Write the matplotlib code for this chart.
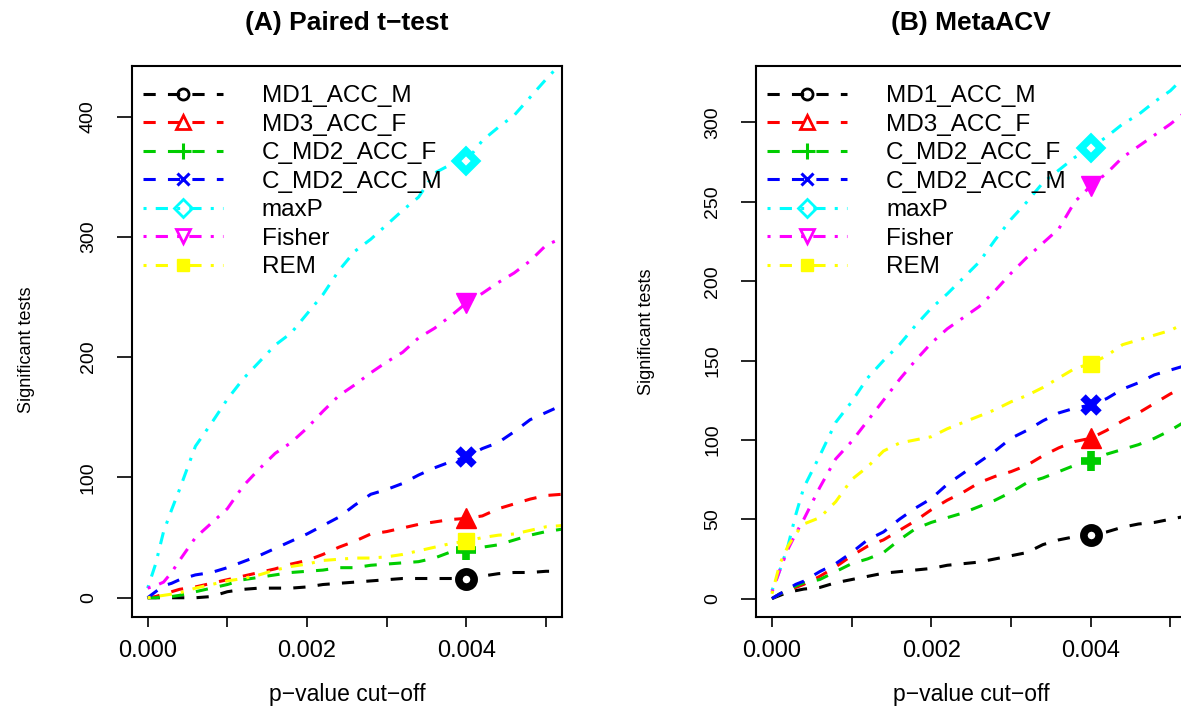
import matplotlib
matplotlib.use("Agg")
import matplotlib.pyplot as plt
from matplotlib.lines import Line2D

plt.rcParams["font.family"] = ["Liberation Sans", "DejaVu Sans"]

# p-value cut-offs at which the significant tests were counted
pcut = [0, .0001, .0002, .0003, .0004, .0006, .0008, .0010, .0012, .0014,
        .0016, .0018, .0020, .0022, .0024, .0026, .0028, .0030, .0032, .0034,
        .0036, .0038, .0040, .0042, .0044, .0046, .0048, .0050, .0052]
mark_at = 0.004

labels = ["MD1_ACC_M", "MD3_ACC_F", "C_MD2_ACC_F", "C_MD2_ACC_M",
          "maxP", "Fisher", "REM"]

# (A) paired t-test
tt_md1 = [0, 0, 0, 0, 0, 0, 1, 5, 7, 8, 8, 8, 9, 11, 12, 13, 14, 15, 16, 16,
          16, 16, 16, 18, 20, 21, 21, 22, 22]
tt_md3 = [0, 1, 3, 5, 7, 9, 12, 15, 18, 21, 24, 28, 31, 36, 42, 47, 53, 55, 58,
          61, 63, 65, 66, 68, 74, 78, 82, 85, 86]
tt_cf = [0, 0, 1, 1, 2, 5, 8, 11, 15, 17, 19, 21, 22, 23, 25, 25, 27, 28, 29,
         30, 33, 38, 40, 42, 44, 48, 52, 55, 57]
tt_cm = [0, 5, 10, 12, 15, 19, 21, 25, 30, 35, 41, 47, 53, 60, 67, 77, 86, 90,
         95, 102, 108, 113, 117, 124, 129, 138, 148, 154, 160]
tt_maxp = [8, 28, 55, 73, 90, 126, 145, 165, 182, 196, 210, 220, 236, 252, 272,
           288, 298, 310, 322, 333, 353, 360, 363, 380, 391, 401, 416, 431, 445]
tt_fisher = [8, 10, 13, 21, 31, 50, 62, 74, 93, 107, 120, 129, 141, 155, 168,
             177, 187, 196, 204, 216, 224, 234, 245, 253, 262, 270, 280, 293, 299]
tt_rem = [0, 1, 2, 3, 4, 8, 11, 14, 16, 19, 23, 26, 28, 31, 32, 33, 33, 34, 36,
          39, 42, 45, 47, 50, 52, 53, 56, 59, 60]

# (B) MetaACV
ma_md1 = [0, 2, 4, 5, 6, 7, 10, 12, 14, 16, 17, 18, 19, 21, 22, 23, 25, 27, 29,
          34, 37, 39, 40, 42, 45, 47, 48, 50, 52]
ma_md3 = [0, 3, 5, 7, 9, 14, 20, 27, 33, 37, 43, 49, 56, 62, 67, 73, 77, 80, 84,
          90, 95, 99, 101, 106, 112, 117, 123, 129, 134]
ma_cf = [0, 3, 5, 8, 10, 12, 17, 22, 25, 29, 37, 44, 48, 51, 54, 58, 62, 67, 73,
         76, 80, 84, 87, 91, 94, 97, 101, 106, 112]
ma_cm = [0, 3, 6, 9, 11, 17, 22, 29, 37, 42, 50, 57, 63, 72, 79, 86, 93, 101,
         106, 112, 117, 120, 122, 126, 132, 136, 141, 144, 147]
ma_maxp = [5, 18, 33, 53, 70, 90, 111, 124, 139, 150, 160, 172, 183, 192, 202,
           212, 226, 239, 250, 262, 270, 278, 284, 291, 299, 305, 313, 320, 330]
ma_fisher = [4, 18, 31, 41, 50, 70, 88, 99, 112, 125, 138, 150, 161, 170, 177,
             184, 194, 205, 215, 224, 233, 250, 260, 268, 278, 285, 292, 299, 307]
ma_rem = [3, 22, 33, 41, 47, 51, 61, 75, 83, 93, 98, 100, 102, 107, 111, 115,
          119, 124, 128, 133, 139, 145, 148, 153, 160, 163, 166, 169, 174]

x_ticks = [0, 0.001, 0.002, 0.003, 0.004, 0.005]
x_ticklabels = ["0.000", "", "0.002", "", "0.004", ""]
tt_yticks = [0, 100, 200, 300, 400]
ma_yticks = [0, 50, 100, 150, 200, 250, 300]

colors = ["black", "#FF0000", "#00CD00", "#0000FF", "#00FFFF", "#FF00FF", "#FFFF00"]
dashed = (0, (4, 4))
dotdash = (0, (1, 3, 4, 3))
styles = [dashed] * 4 + [dotdash] * 3
plot_marks = [
    dict(marker="o", ms=11, mew=5.5, mfc="white", mec="black"),
    dict(marker="^", ms=14, mew=1, mfc="#FF0000", mec="#FF0000"),
    dict(marker="+", ms=15, mew=5.5, mec="#00CD00"),
    dict(marker="x", ms=12, mew=5.5, mec="#0000FF"),
    dict(marker="D", ms=10.5, mew=5.5, mfc="white", mec="#00FFFF"),
    dict(marker="v", ms=14, mew=1, mfc="#FF00FF", mec="#FF00FF"),
    dict(marker="s", ms=12, mew=1, mfc="#FFFF00", mec="#FFFF00"),
]
legend_marks = [
    dict(marker="o", ms=8, mew=2, mfc="none"),
    dict(marker="^", ms=10, mew=2, mfc="none"),
    dict(marker="+", ms=12, mew=2.2),
    dict(marker="x", ms=9, mew=2.2),
    dict(marker="D", ms=9, mew=2, mfc="none"),
    dict(marker="v", ms=10, mew=2, mfc="none"),
    dict(marker="s", ms=9, mew=1, mfc="#FFFF00"),
]

fig = plt.figure(figsize=(11.81, 7.06), dpi=100)
W, H = 1181.0, 706.0
ax_w = 430.3 / W
ax_b = 1 - 617 / H
ax_h = 551 / H
ax_a = fig.add_axes([131.7 / W, ax_b, ax_w, ax_h])
ax_m = fig.add_axes([756.0 / W, ax_b, ax_w, ax_h])

panels = [
    (ax_a, "(A) Paired t\u2212test",
     [tt_md1, tt_md3, tt_cf, tt_cm, tt_maxp, tt_fisher, tt_rem],
     tt_yticks, (-16, 442), (-0.2456, 0.4846)),
    (ax_m, "(B) MetaACV",
     [ma_md1, ma_md3, ma_cf, ma_cm, ma_maxp, ma_fisher, ma_rem],
     ma_yticks, (-11.6, 335.6), (-0.2556, 0.5178)),
]

idx = pcut.index(mark_at)
for ax, title, series, yticks, ylim, ylab_pos in panels:
    for vals, col, ls, mk in zip(series, colors, styles, plot_marks):
        ax.plot(pcut, vals, color=col, linestyle=ls, lw=2.2,
                dash_capstyle="butt", markevery=[idx], **mk)
    ax.set_xlim(-0.0002, 0.0052)
    ax.set_ylim(*ylim)
    ax.set_xticks(x_ticks)
    ax.set_xticklabels(x_ticklabels)
    ax.set_yticks(yticks)
    ax.tick_params(axis="x", direction="out", length=7.5, width=1.2,
                   labelsize=17, pad=9)
    ax.tick_params(axis="y", direction="out", length=11, width=1.2,
                   labelsize=14, pad=14, labelrotation=90)
    for lbl in ax.get_yticklabels():
        lbl.set_va("center")
    for sp in ax.spines.values():
        sp.set_linewidth(1.5)
    ax.set_title(title, fontsize=19, fontweight="bold", y=(617 - 23.4) / 551,
                 va="center", pad=0)
    ax.set_xlabel("p\u2212value cut\u2212off", fontsize=16.5)
    ax.xaxis.set_label_coords(0.5, (617 - 694) / 551)
    ax.xaxis.label.set_va("center")
    ax.set_ylabel("Significant tests", fontsize=13, va="center")
    ax.yaxis.set_label_coords(*ylab_pos)

    handles = [Line2D([], [], color=c, linestyle=ls, lw=2.2, mec=c, **lm)
               for c, ls, lm in zip(colors, styles, legend_marks)]
    ax.legend(handles, labels, loc="upper left",
              bbox_to_anchor=(0.0256, 0.965), frameon=False, fontsize=17.5,
              handlelength=3.3, handletextpad=1.6, labelspacing=0.265,
              borderpad=0, borderaxespad=0, numpoints=1)

fig.savefig("out.png", dpi=100)
